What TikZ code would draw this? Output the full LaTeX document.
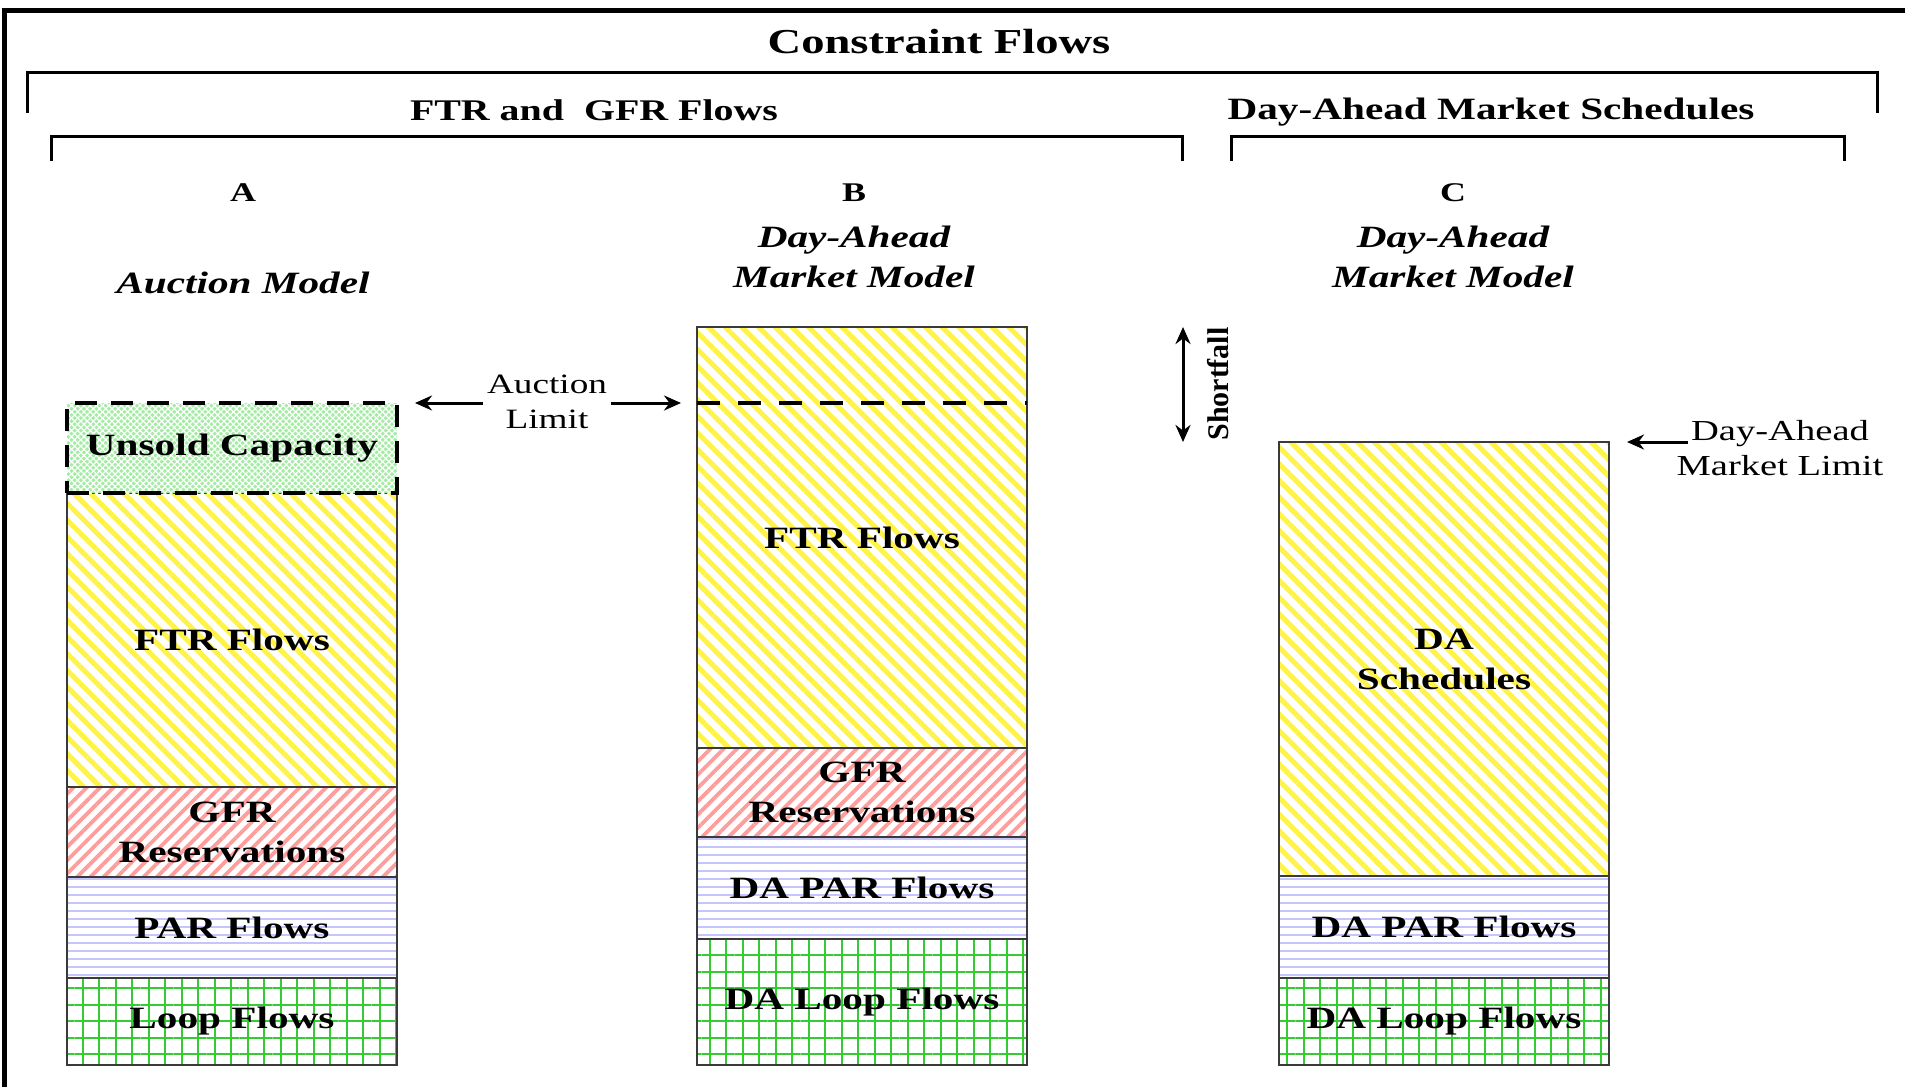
\documentclass[tikz,border=0pt]{standalone}
\usepackage{fontspec}
\setmainfont[FakeStretch=1.33]{Liberation Serif}
\newfontfamily\plainserif{Liberation Serif}
\usetikzlibrary{patterns.meta,arrows.meta}
\definecolor{hyellow}{HTML}{FFF347}
\definecolor{hred}{HTML}{FF9C9C}
\definecolor{hblue}{HTML}{C4C4FF}
\definecolor{hgreen}{HTML}{33CC33}
\definecolor{ugreen}{HTML}{A4ECA4}
\definecolor{boxline}{HTML}{3A3A3A}
\begin{document}
\begin{tikzpicture}[x=1pt,y=-1pt,
  seg/.style={draw=boxline, line width=2pt, minimum width=330pt, inner sep=0pt, outer sep=0pt,
    align=center, font=\fontsize{31}{40}\selectfont\bfseries},
  ftrfill/.style={pattern={Lines[angle=-45,distance=11.8pt,line width=5pt]}, pattern color=hyellow},
  gfrfill/.style={pattern={Lines[angle=45,distance=9.4pt,line width=3.8pt]}, pattern color=hred},
  parfill/.style={pattern={Lines[angle=0,distance=8pt,line width=1.8pt]}, pattern color=hblue},
  loopfill/.style={pattern={Hatch[angle=0,distance=16.5pt,line width=2pt]}, pattern color=hgreen},
  unsoldfill/.style={preaction={fill=ugreen}, pattern={Hatch[angle=45,distance=4.4pt,line width=1.2pt]}, pattern color=white},
  limdash/.style={line width=4pt, dash pattern=on 22pt off 14pt},
  tipx/.tip={Stealth[length=17pt,width=15pt]},
  arr/.style={line width=3pt, -tipx},
  darr/.style={line width=3pt, tipx-tipx},
  bracket/.style={line width=3pt},
  head/.style={font=\fontsize{30}{36}\selectfont\bfseries},
  colhead/.style={font=\fontsize{27}{32}\selectfont\bfseries},
  model/.style={font=\fontsize{31}{40}\selectfont\bfseries\itshape, align=center},
  limtxt/.style={font=\fontsize{28}{35}\selectfont, align=center},
]
\useasboundingbox (0,0) rectangle (1905,1087);
% frame
\draw[line width=5pt] (4.5,1087) -- (4.5,10) -- (1905,10);
% titles and brackets
\node[font=\fontsize{35}{40}\selectfont\bfseries] (title) at (939,42) {Constraint Flows};
\draw[bracket] (27,113) -- (27,72) -- (1877,72) -- (1877,113);
\node[head] (h1) at (594,110) {FTR and \ GFR Flows};
\node[head, font=\fontsize{31}{36}\selectfont\bfseries] (h2) at (1491,112) {Day-Ahead Market Schedules};
\draw[bracket] (51,161) -- (51,136) -- (1182,136) -- (1182,161);
\draw[bracket] (1231,161) -- (1231,136) -- (1844,136) -- (1844,161);
\node[colhead] (ca) at (243,193) {A};
\node[colhead] (cb) at (854,193) {B};
\node[colhead] (cc) at (1453,193) {C};
\node[model] (ma) at (243,283) {Auction Model};
\node[model] (mb) at (854,257) {Day-Ahead\\Market Model};
\node[model] (mc) at (1453,257) {Day-Ahead\\Market Model};
% column A
\node[seg, ftrfill, minimum height=294pt] (ftrA) at (232,640) {FTR Flows};
\node[seg, gfrfill, minimum height=90pt] (gfrA) at (232,832) {GFR\\Reservations};
\node[seg, parfill, minimum height=101pt] (parA) at (232,927.5) {PAR Flows};
\node[seg, loopfill, minimum height=87pt] (loopA) at (232,1021.5) {Loop Flows};
\node[seg, unsoldfill, draw=black, limdash, minimum height=90pt] (unsold) at (232,448) {Unsold Capacity};
% column B
\node[seg, ftrfill, minimum height=421pt] (ftrB) at (862,537.5) {FTR Flows};
\node[seg, gfrfill, minimum height=89pt] (gfrB) at (862,792.5) {GFR\\Reservations};
\node[seg, parfill, minimum height=102pt] (parB) at (862,888) {DA PAR Flows};
\node[seg, loopfill, minimum height=126pt] (loopB) at (862,1002) {DA Loop Flows};
\coordinate (auclev) at (0,403);
\draw[limdash, dash pattern=on 23pt off 18pt] (ftrB.west |- auclev) -- (ftrB.east |- auclev);
% column C
\node[seg, ftrfill, minimum height=434pt] (dasch) at (1444,659) {DA\\Schedules};
\node[seg, parfill, minimum height=102pt] (parC) at (1444,927) {DA PAR Flows};
\node[seg, loopfill, minimum height=87pt] (loopC) at (1444,1021.5) {DA Loop Flows};
% auction limit
\node[limtxt] (alim) at (547,402) {Auction\\Limit};
\coordinate (alimL) at (415,403);
\coordinate (alimR) at (681,403);
\draw[arr] (alim.west |- auclev) -- (alimL);
\draw[arr] (alim.east |- auclev) -- (alimR);
% shortfall
\coordinate (sfx) at (1183,0);
\draw[darr] (sfx |- ftrB.north) -- (sfx |- dasch.north);
\node[font=\fontsize{30}{34}\selectfont\plainserif\bfseries, rotate=90] (sf) at (1218,384) {Shortfall};
% day-ahead market limit
\node[font=\fontsize{29}{35}\selectfont, align=center] (dalim) at (1780,448) {Day-Ahead\\Market Limit};
\coordinate (datail) at (1688,442);
\coordinate (datip) at (1627,442);
\draw[arr] (datail) -- (datip);
\end{tikzpicture}
\end{document}
